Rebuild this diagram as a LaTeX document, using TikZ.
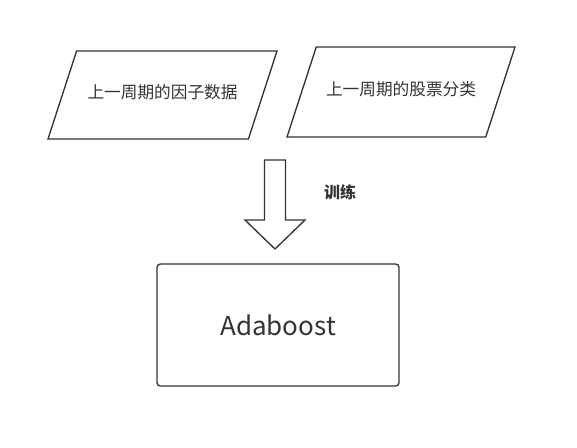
\documentclass[tikz,border=0pt]{standalone}
\usepackage{fontspec}
\setmainfont{Noto Sans CJK SC}
\usetikzlibrary{positioning,shapes.geometric}
\definecolor{linegray}{HTML}{333333}
\tikzset{
	%estils dels nodes
	dades/.style = {trapezium, trapezium left angle=72, trapezium right angle=108,
	                trapezium stretches body=true, draw=linegray, line width=1pt,
	                minimum width=171.75pt, text height=8pt, text depth=3pt,
	                inner xsep=0pt, inner ysep=27.5pt,
	                font=\fontsize{12.5}{14}\selectfont, text=linegray},
	model/.style = {rectangle, rounded corners=2.5pt, draw=linegray, line width=1pt,
	                minimum width=181.5pt, minimum height=91.5pt,
	                font=\fontsize{19.5}{22}\selectfont, text=linegray}
}
\begin{document}
\begin{tikzpicture}[x=0.75pt, y=-0.75pt]
	\useasboundingbox (0,0) rectangle (577,447);
	\node (fac) [dades] at (162.5,95) {上一周期的因子数据};
	\node (cla) [dades, minimum width=171pt, inner ysep=28.25pt] at (401,92) {上一周期的股票分类};
	\node (ada) [model] at (278,325) {Adaboost};

	% fletxa gruixuda
	\coordinate (tip) at (275,249);
	\draw[draw=linegray, line width=1pt, line join=miter]
		(tip) -- ++(-30,-29) -- ++(19.5,0) -- ++(0,-60) -- ++(21,0)
		-- ++(0,60) -- ++(19.5,0) -- cycle;
	\node (tre) [font=\bfseries\fontsize{12}{14}\selectfont, text=linegray] at (340,192) {训练};
\end{tikzpicture}
\end{document}
